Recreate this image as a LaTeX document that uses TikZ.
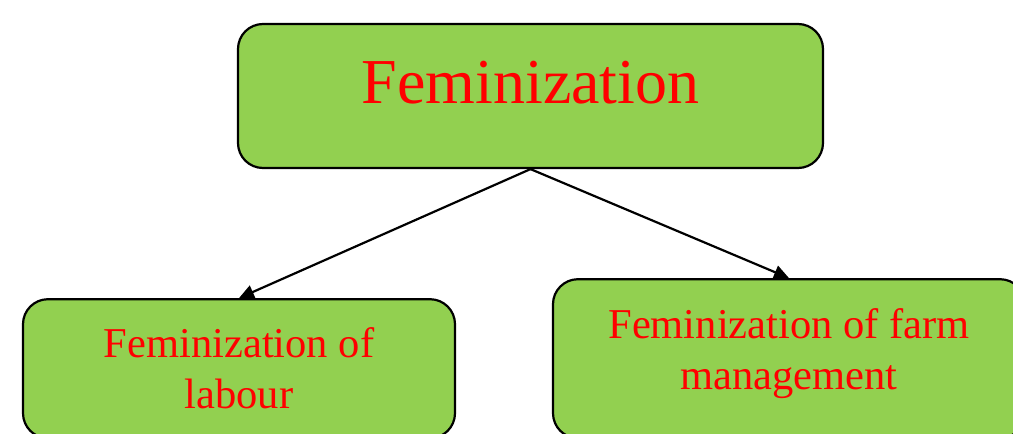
\documentclass[tikz,border=0pt]{standalone}
\usepackage{fontspec}
\setmainfont{Liberation Serif}
\usetikzlibrary{arrows.meta,positioning}
\definecolor{femgreen}{HTML}{92D050}
\definecolor{femred}{HTML}{FF0000}

\begin{document}
\begin{tikzpicture}[
  box/.style={rounded corners=25pt, draw=black, fill=femgreen, line width=2.2pt,
              align=center, text=femred, inner sep=0pt},
  topbox/.style={box, font=\fontsize{64}{76}\selectfont},
  subbox/.style={box, font=\fontsize{42.5}{51}\selectfont},
  flow/.style={-{Triangle[length=15pt, width=14pt]}, line width=2.2pt, draw=black}
]
  \useasboundingbox (0,0) rectangle (1013pt,-434pt);

  \node[topbox, minimum width=585pt, minimum height=144pt, text depth=28pt]
    (fem) at (530.5pt,-96pt) {Feminization};
  \node[subbox, minimum width=432pt, minimum height=139pt,
        below=129pt of fem, xshift=-291.5pt] (labour) {Feminization of\\labour};
  \node[subbox, minimum width=472pt, minimum height=159pt,
        below=109pt of fem, xshift=258.5pt] (farm)
    {Feminization of farm\\management\rule[-20pt]{0pt}{0pt}};

  \draw[flow] (fem.south) -- (labour.north);
  \draw[flow] (fem.south) -- (farm.north);
\end{tikzpicture}
\end{document}
